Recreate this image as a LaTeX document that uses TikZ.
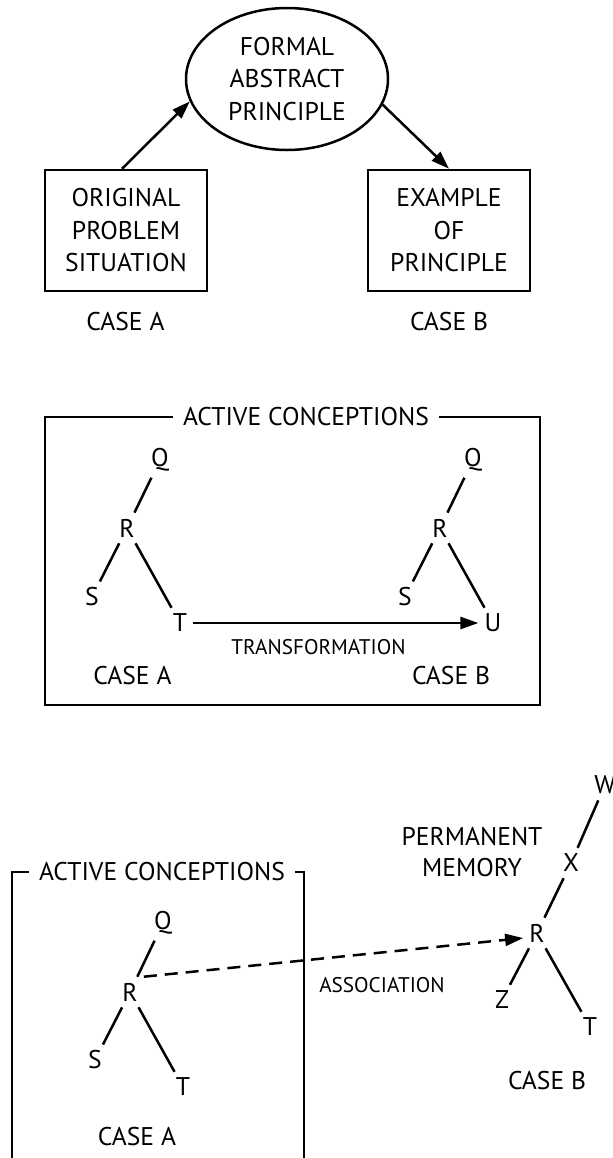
\documentclass[tikz,border=0pt]{standalone}
\usepackage{fontspec}
\setmainfont{PT Sans}
\usetikzlibrary{shapes.geometric,arrows.meta}
\tikzset{
  every node/.style={font=\fontsize{12.8}{16.25}\selectfont, inner sep=2.5pt},
  small/.style={font=\fontsize{10.6}{12}\selectfont},
  box/.style={draw, minimum width=81pt, minimum height=60.5pt, align=center},
  tip/.style={-{Triangle[length=9pt,width=6pt]}},
  title/.style={fill=white, inner xsep=5pt}
}

\begin{document}
\begin{tikzpicture}[x=0.5pt,y=-0.5pt,line width=1.25pt]
              \useasboundingbox (0,0) rectangle (613,1158);
              % top: principle between the two cases
              \node[draw, ellipse, minimum width=101pt, minimum height=71pt, inner sep=0pt, align=center] (fap) at (287,79) {FORMAL\\ABSTRACT\\PRINCIPLE};
              \node[box] (orig) at (126,230.5) {ORIGINAL\\PROBLEM\\SITUATION};
              \node[box] (expl) at (449,230.5) {EXAMPLE\\OF\\PRINCIPLE};
              \node (casea) at (125.5,322) {CASE A};
              \node (caseb) at (449,322) {CASE B};
              \draw[tip] ([xshift=-2pt]orig.north) -- (fap.193);
              \draw[tip] (fap.345) -- (expl.north);
              % middle: transformation
              \draw (45,417) rectangle (540,705);
              \node[title] (act) at (306,417) {ACTIVE CONCEPTIONS};
              \node (qa) at (160,460) {Q};
              \node (ra) at (127,528) {R};
              \node (sa) at (92,597) {S};
              \node (ta) at (180,623) {T};
              \node (qb) at (473,460) {Q};
              \node (rb) at (440,528) {R};
              \node (sb) at (405,597) {S};
              \node (ub) at (493,623) {U};
              \draw (qa) -- (ra) -- (sa);
              \draw (ra) -- (ta);
              \draw (qb) -- (rb) -- (sb);
              \draw (rb) -- (ub);
              \draw[tip] (ta) -- (ub);
              \node[small] (trans) at (318.5,647) {TRANSFORMATION};
              \node (mcasea) at (132.5,676) {CASE A};
              \node (mcaseb) at (451,676) {CASE B};
              % bottom: association with permanent memory
              \draw (12,1160) -- (12,872) -- (304,872) -- (304,1160);
              \node[title] (act2) at (162,872) {ACTIVE CONCEPTIONS};
              \node (qc) at (163,923) {Q};
              \node (rc) at (130,992) {R};
              \node (sc) at (95,1060) {S};
              \node (tc) at (183,1087) {T};
              \node (bcasea) at (137,1137) {CASE A};
              \node (wd) at (605,785) {W};
              \node (xd) at (571,863) {X};
              \node (rd) at (537,933) {R};
              \node (zd) at (502,1000) {Z};
              \node (td) at (590,1027) {T};
              \node[align=center, font=\fontsize{12.8}{15.5}\selectfont] (perm) at (472,852) {PERMANENT\\MEMORY};
              \node (bcaseb) at (547,1081) {CASE B};
              \draw (qc) -- (rc) -- (sc);
              \draw (rc) -- (tc);
              \draw (wd) -- (xd) -- (rd) -- (zd);
              \draw (rd) -- (td);
              \draw[tip, dash pattern=on 6.5pt off 4pt] (rc.north east) -- (rd.200);
              \node[small] (assoc) at (382,985) {ASSOCIATION};
          \end{tikzpicture}
\end{document}
